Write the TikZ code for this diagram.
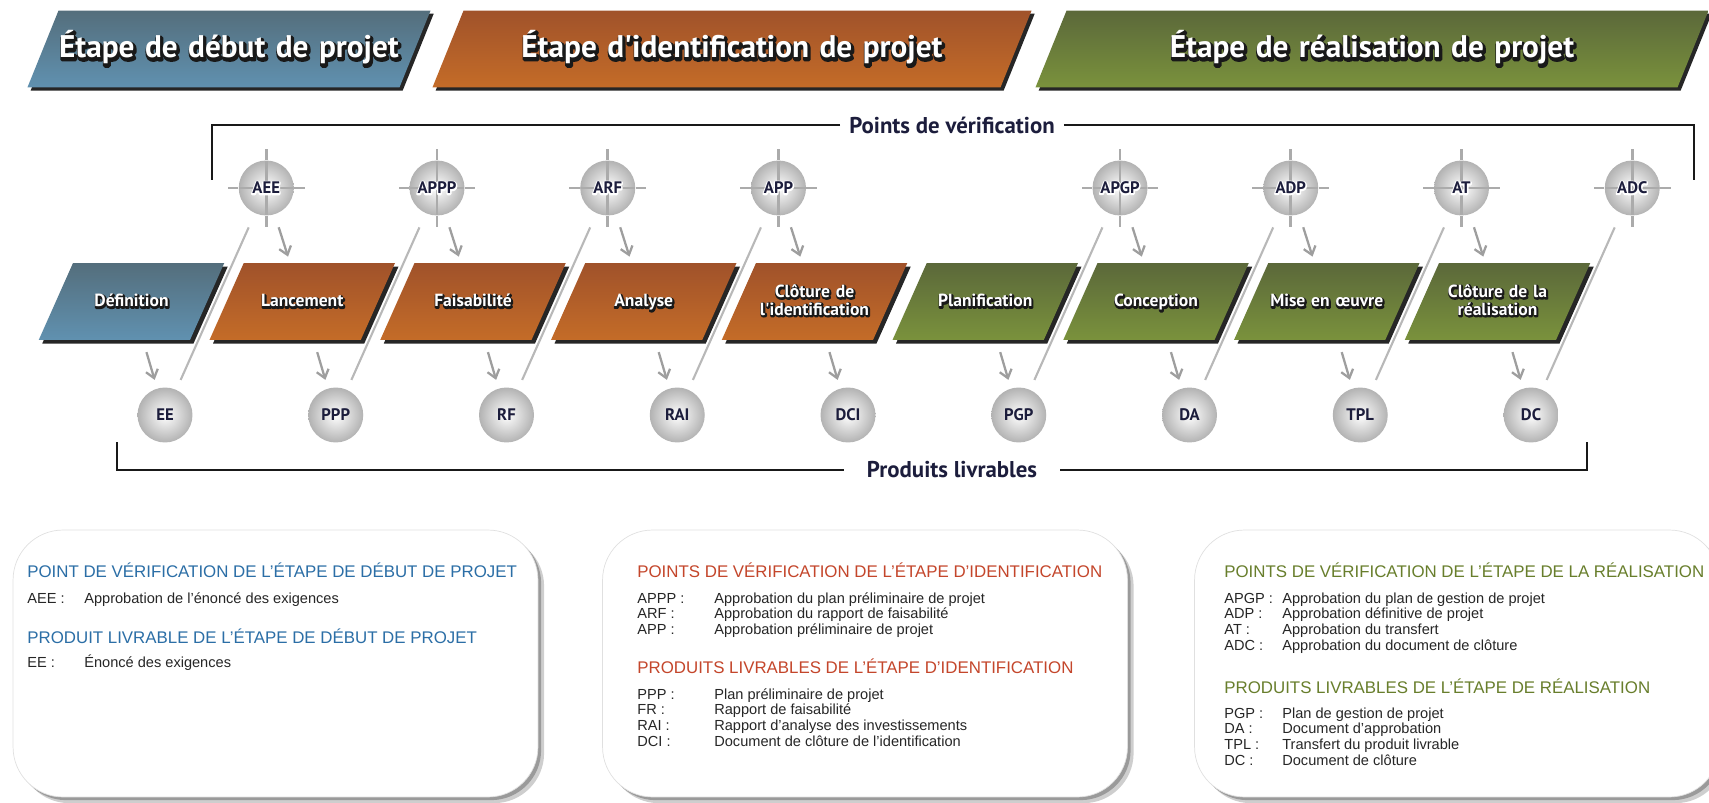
\documentclass[tikz,border=0pt]{standalone}
\usepackage{fontspec}
\setmainfont{Liberation Sans}
\newfontfamily\hfont{PT Sans}
\usetikzlibrary{shapes.geometric,shadows,calc,arrows.meta}
\definecolor{bleuA}{HTML}{546E7C}
\definecolor{bleuB}{HTML}{6091B0}
\definecolor{orangeA}{HTML}{A0522A}
\definecolor{orangeB}{HTML}{C46C28}
\definecolor{vertA}{HTML}{5B683A}
\definecolor{vertB}{HTML}{7A923C}
\definecolor{marine}{HTML}{1C1D3C}
\definecolor{titreBleu}{HTML}{2B6EA6}
\definecolor{titreOrange}{HTML}{C4462B}
\definecolor{titreVert}{HTML}{687E2C}
\newcommand\outl[2][1.5]{%
  \makebox[0pt][l]{\color{black!90}\special{pdf:literal direct 2 Tr #1 w 1 j}%
    \hspace{0.04em}\raisebox{-0.05em}{#2}\special{pdf:literal direct 0 Tr}}%
  {\color{white}#2}}
\newcommand\halo[1]{%
  \makebox[0pt][l]{\color{white}\special{pdf:literal direct 2 Tr 1.6 w 1 j}#1\special{pdf:literal direct 0 Tr}}%
  #1}
\begin{document}
\begin{tikzpicture}[x=0.02cm,y=-0.02cm,
  bandeau/.style={trapezium, trapezium left angle=68, trapezium right angle=112,
    inner sep=0pt, align=center, text height=0.95cm, text depth=0.59cm,
    drop shadow={shadow xshift=1.8pt,shadow yshift=-1.8pt,fill=black!85,opacity=1},
    font=\hfont\bfseries\fontsize{17.8}{20}\selectfont},
  etape/.style={trapezium, trapezium left angle=66, trapezium right angle=114,
    inner sep=0pt, text width=2.34cm, align=center, text height=0.876cm, text depth=0.664cm,
    drop shadow={shadow xshift=2pt,shadow yshift=-2pt,fill=black!85,opacity=1},
    font=\hfont\bfseries\fontsize{10}{9.7}\selectfont},
  bleu/.style={top color=bleuA, bottom color=bleuB},
  orange/.style={top color=orangeA, bottom color=orangeB},
  vert/.style={top color=vertA, bottom color=vertB},
  croix/.style={draw=black!33, line width=1.6pt},
  point/.style={circle, minimum size=1.1cm, inner sep=0pt, inner color=white, outer color=black!30,
    text=marine, font=\hfont\bfseries\fontsize{9.5}{10}\selectfont},
  verif/.style={point,
    path picture={\draw[croix] (path picture bounding box.west) -- (path picture bounding box.east)
      (path picture bounding box.north) -- (path picture bounding box.south);},
    append after command={\pgfextra{\draw[croix] (\tikzlastnode.west) -- +(-10.5,0)
      (\tikzlastnode.east) -- +(10.5,0) (\tikzlastnode.north) -- +(0,-11)
      (\tikzlastnode.south) -- +(0,11);}}},
  titre/.style={text=marine, inner ysep=0pt, font=\hfont\bfseries\fontsize{13}{15}\selectfont},
  crochet/.style={draw=black!90, line width=1.4pt},
  fleche/.style={-{Straight Barb[length=4.5pt,width=7pt]}, draw=black!38, line width=1.3pt},
  haut/.style={fleche, shorten <=7.6pt, shorten >=3.6pt},
  bas/.style={fleche, shorten <=7pt, shorten >=5pt},
  diag/.style={draw=black!28, line width=1.2pt, shorten <=6pt, shorten >=8.7pt},
  boite/.style={draw=black!12, fill=white, rounded corners=1cm, minimum width=10.5cm,
    minimum height=5.34cm,
    drop shadow={shadow xshift=3.5pt,shadow yshift=-3.5pt,fill=black!55,opacity=0.35},
    drop shadow={shadow xshift=1.8pt,shadow yshift=-1.8pt,fill=black!60,opacity=0.5}},
  txt/.style={inner sep=0pt, anchor=base west},
  tit/.style={txt, font=\fontsize{9.6}{11}\selectfont},
  lst/.style={txt, text=black!85, font=\fontsize{8.3}{9.1}\selectfont}]

  \useasboundingbox (0,0) rectangle (1709,803);

  \node[bandeau, bleu, text width=6.82cm] (Debut) at (229,49) {\outl[2.2]{Étape de début de projet}};
  \node[bandeau, orange, text width=10.74cm] (Identif) at (732,49) {\outl[2.2]{Étape d'identification de projet}};
  \node[bandeau, vert, text width=12.22cm] (Realis) at (1372,49) {\outl[2.2]{Étape de réalisation de projet}};

  \node[titre, inner xsep=5pt] (PtsVerif) at (952,125) {Points de vérification};
  \coordinate (VerifG) at (212,180);
  \coordinate (VerifD) at (1694,180);
  \draw[crochet] (PtsVerif.west) -| (VerifG);
  \draw[crochet] (PtsVerif.east) -| (VerifD);

  \node[titre, inner xsep=13pt] (ProdLiv) at (952,470) {Produits livrables};
  \coordinate (LivG) at (117,442);
  \coordinate (LivD) at (1587,442);
  \draw[crochet] (ProdLiv.west) -| (LivG);
  \draw[crochet] (ProdLiv.east) -| (LivD);

  \node[etape, bleu] (Def) at (131.5,301.5) {\outl{Définition}};
  \node[etape, orange] (Lanc) at (302.25,301.5) {\outl{Lancement}};
  \node[etape, orange] (Fais) at (473,301.5) {\outl{Faisabilité}};
  \node[etape, orange] (Anal) at (643.75,301.5) {\outl{Analyse}};
  \node[etape, orange] (ClotIdent) at (814.5,301.5) {\outl{\begin{tabular}{@{}c@{}}Clôture de\\l'identification\end{tabular}}};
  \node[etape, vert] (Planif) at (985.25,301.5) {\outl{Planification}};
  \node[etape, vert] (Concep) at (1156,301.5) {\outl{Conception}};
  \node[etape, vert] (MiseOeuvre) at (1326.75,301.5) {\outl{Mise en œuvre}};
  \node[etape, vert] (ClotReal) at (1497.5,301.5) {\outl{\begin{tabular}{@{}c@{}}Clôture de la\\réalisation\end{tabular}}};

  \node[verif] (AEE) at (266.25,188) {\halo{AEE}};
  \node[verif] (APPP) at (437,188) {\halo{APPP}};
  \node[verif] (ARF) at (607.75,188) {\halo{ARF}};
  \node[verif] (APP) at (778.5,188) {\halo{APP}};
  \node[verif] (APGP) at (1120,188) {\halo{APGP}};
  \node[verif] (ADP) at (1290.75,188) {\halo{ADP}};
  \node[verif] (AT) at (1461.5,188) {\halo{AT}};
  \node[verif] (ADC) at (1632.25,188) {\halo{ADC}};

  \node[point] (EE) at (165,415) {EE};
  \node[point] (PPP) at (335.75,415) {PPP};
  \node[point] (RF) at (506.5,415) {RF};
  \node[point] (RAI) at (677.25,415) {RAI};
  \node[point] (DCI) at (848,415) {DCI};
  \node[point] (PGP) at (1018.75,415) {PGP};
  \node[point] (DA) at (1189.5,415) {DA};
  \node[point] (TPL) at (1360.25,415) {TPL};
  \node[point] (DC) at (1531,415) {DC};

  \draw[haut] (AEE) -- (Lanc);
  \draw[haut] (APPP) -- (Fais);
  \draw[haut] (ARF) -- (Anal);
  \draw[haut] (APP) -- (ClotIdent);
  \draw[haut] (APGP) -- (Concep);
  \draw[haut] (ADP) -- (MiseOeuvre);
  \draw[haut] (AT) -- (ClotReal);

  \draw[bas] (Def) -- (EE);
  \draw[bas] (Lanc) -- (PPP);
  \draw[bas] (Fais) -- (RF);
  \draw[bas] (Anal) -- (RAI);
  \draw[bas] (ClotIdent) -- (DCI);
  \draw[bas] (Planif) -- (PGP);
  \draw[bas] (Concep) -- (DA);
  \draw[bas] (MiseOeuvre) -- (TPL);
  \draw[bas] (ClotReal) -- (DC);

  \draw[diag] (EE) -- (AEE);
  \draw[diag] (PPP) -- (APPP);
  \draw[diag] (RF) -- (ARF);
  \draw[diag] (RAI) -- (APP);
  \draw[diag] (PGP) -- (APGP);
  \draw[diag] (DA) -- (ADP);
  \draw[diag] (TPL) -- (AT);
  \draw[diag] (DC) -- (ADC);

  \node[boite] (BoxDebut) at (275.5,663.5) {};
  \node[boite] (BoxIdentif) at (865,663.5) {};
  \node[boite] (BoxRealis) at (1457,663.5) {};

  \node[tit, text=titreBleu] (TitVerifDebut) at (27,577) {POINT DE VÉRIFICATION DE L'ÉTAPE DE DÉBUT DE PROJET};
  \node[lst] (LstVerifDebut) at (27,603) {\begin{tabular}[t]{@{}p{1.14cm}@{}l@{}}AEE :&Approbation de l'énoncé des exigences\end{tabular}};
  \node[tit, text=titreBleu] (TitLivDebut) at (27,643) {PRODUIT LIVRABLE DE L'ÉTAPE DE DÉBUT DE PROJET};
  \node[lst] (LstLivDebut) at (27,667) {\begin{tabular}[t]{@{}p{1.14cm}@{}l@{}}EE :&Énoncé des exigences\end{tabular}};

  \node[tit, text=titreOrange] (TitVerifIdent) at (637,577) {POINTS DE VÉRIFICATION DE L'ÉTAPE D'IDENTIFICATION};
  \node[lst] (LstVerifIdent) at (637,603) {\begin{tabular}[t]{@{}p{1.54cm}@{}l@{}}APPP :&Approbation du plan préliminaire de projet\\ARF :&Approbation du rapport de faisabilité\\APP :&Approbation préliminaire de projet\end{tabular}};
  \node[tit, text=titreOrange] (TitLivIdent) at (637,673) {PRODUITS LIVRABLES DE L'ÉTAPE D'IDENTIFICATION};
  \node[lst] (LstLivIdent) at (637,699) {\begin{tabular}[t]{@{}p{1.54cm}@{}l@{}}PPP :&Plan préliminaire de projet\\FR :&Rapport de faisabilité\\RAI :&Rapport d'analyse des investissements\\DCI :&Document de clôture de l'identification\end{tabular}};

  \node[tit, text=titreVert] (TitVerifReal) at (1224,577) {POINTS DE VÉRIFICATION DE L'ÉTAPE DE LA RÉALISATION};
  \node[lst] (LstVerifReal) at (1224,603) {\begin{tabular}[t]{@{}p{1.16cm}@{}l@{}}APGP :&Approbation du plan de gestion de projet\\ADP :&Approbation définitive de projet\\AT :&Approbation du transfert\\ADC :&Approbation du document de clôture\end{tabular}};
  \node[tit, text=titreVert] (TitLivReal) at (1224,693) {PRODUITS LIVRABLES DE L'ÉTAPE DE RÉALISATION};
  \node[lst] (LstLivReal) at (1224,718) {\begin{tabular}[t]{@{}p{1.16cm}@{}l@{}}PGP :&Plan de gestion de projet\\DA :&Document d'approbation\\TPL :&Transfert du produit livrable\\DC :&Document de clôture\end{tabular}};

\end{tikzpicture}
\end{document}
